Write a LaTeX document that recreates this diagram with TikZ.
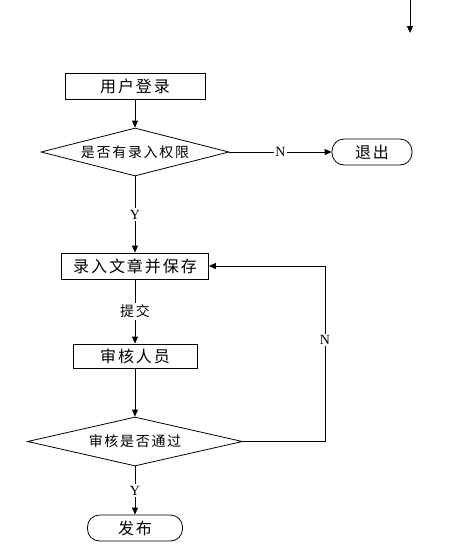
\documentclass[tikz,border=0pt]{standalone}
\usepackage{fontspec}
\setmainfont{Liberation Serif}
\newfontfamily\cjk[LetterSpace=12]{Noto Sans CJK SC}
\usetikzlibrary{arrows.meta,shapes.geometric}
\begin{document}
\begin{tikzpicture}[x=1pt,y=-1pt,
        line width=0.8pt,
        arr/.style={-{Triangle[length=7pt,width=6pt]}},
        procbox/.style={draw,rectangle,inner sep=0pt,font=\cjk\fontsize{16}{16}\selectfont},
        termbox/.style={draw,rectangle,rounded corners=12pt,inner sep=0pt,font=\cjk\fontsize{16}{16}\selectfont},
        choice/.style={draw,diamond,inner sep=0pt,font=\cjk\fontsize{14}{14}\selectfont},
        lbl/.style={fill=white,inner sep=1.5pt,font=\fontsize{14}{14}\selectfont}
    ]
        \useasboundingbox (0,0) rectangle (473,550);

        % stray arrow at the top
        \coordinate (topa) at (410,0);
        \coordinate (topb) at (410,33);
        \draw[arr] (topa) -- (topb);

        \node[procbox,minimum width=140pt,minimum height=26pt] (login) at (135,86) {用户登录};
        \node[choice,aspect=3.9,minimum width=188pt,minimum height=48pt] (right) at (135,152) {是否有录入权限};
        \node[termbox,minimum width=80pt,minimum height=26pt] (quit) at (372,152) {退出};
        \node[procbox,minimum width=147pt,minimum height=26pt] (entry) at (135,266) {录入文章并保存};
        \node[procbox,minimum width=124pt,minimum height=24pt] (review) at (135,356) {审核人员};
        \node[choice,aspect=4.4,minimum width=215pt,minimum height=49pt] (pass) at (135,441.5) {审核是否通过};
        \node[termbox,minimum width=95pt,minimum height=26pt] (publish) at (135,528) {发布};

        \draw[arr] (login) -- (right);
        \draw[arr] (right.east) -- node[lbl] {N} (quit.west);
        \draw[arr] (right.south) -- node[lbl] {Y} (entry.north);
        \draw[arr] (entry.south) -- node[lbl,font=\cjk\fontsize{14}{14}\selectfont] {提交} (review.north);
        \draw[arr] (review.south) -- (pass.north);
        \draw[arr] (pass.south) -- node[lbl] {Y} (publish.north);

        % back to entry when rejected
        \coordinate (bend) at (325,441.5);
        \draw[arr] (pass.east) -- (bend) |- node[lbl,pos=0.29] {N} (entry.east);
    \end{tikzpicture}
\end{document}
